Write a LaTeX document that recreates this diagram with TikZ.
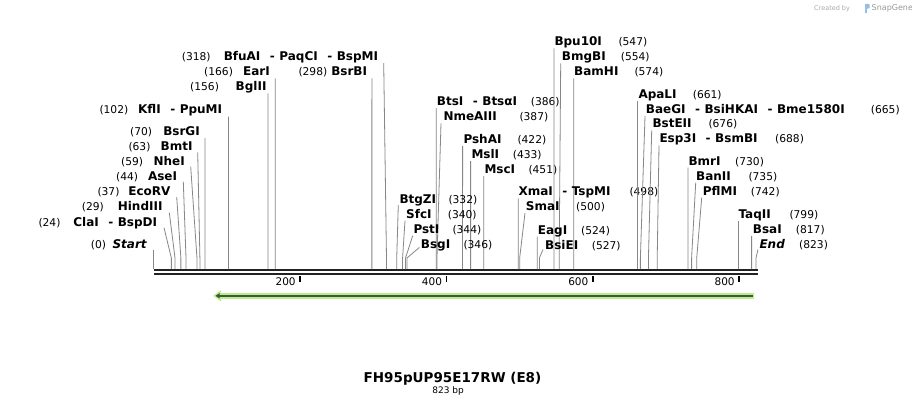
\documentclass[tikz,border=0pt]{standalone}
\usepackage{fontspec}
\setmainfont{DejaVu Sans}
\usetikzlibrary{arrows.meta}
\definecolor{sitegray}{RGB}{135,135,135}
\definecolor{rulerc}{RGB}{34,34,34}
\definecolor{featgreen}{RGB}{183,240,138}
\definecolor{featdark}{RGB}{72,82,62}
\definecolor{wmgray}{RGB}{170,170,170}
\definecolor{wmblue}{RGB}{150,190,230}
\newcommand\hy{\hspace{9.5pt}-\hspace{4.5pt}}
% left-side label: bp, name, number x, name right x, baseline, line top x, line top y
\newcommand\enzL[7]{%
  \node[num,anchor=base west] (n#1) at (#3,#5) {(#1)};
  \node[enz,anchor=base east] (e#1) at (#4,#5) {#2};
  \coordinate (s#1) at ({153.8+0.7317*#1},269);
  \coordinate (t#1) at (#6,#7);
  \draw[siteline] (t#1) -- ([yshift=11pt]s#1) -- (s#1);
}
% right-side label: bp, name, name left x, number x, baseline, line top x, line top y
\newcommand\enzR[7]{%
  \node[enz,anchor=base west] (e#1) at (#3,#5) {#2};
  \node[num,anchor=base west] (n#1) at (#4,#5) {(#1)};
  \coordinate (s#1) at ({153.8+0.7317*#1},269);
  \coordinate (t#1) at (#6,#7);
  \draw[siteline] (t#1) -- ([yshift=11pt]s#1) -- (s#1);
}
\begin{document}
\begin{tikzpicture}[x=1pt,y=-1pt,
  enz/.style={font=\fontsize{12}{14}\selectfont\bfseries, inner sep=0pt},
  num/.style={font=\fontsize{10.7}{12}\selectfont, inner sep=0pt},
  siteline/.style={draw=sitegray, line width=0.8pt},
  rulerline/.style={draw=rulerc, line width=2.1pt},
  tickmark/.style={draw=black, line width=1.5pt},
  ticklabel/.style={font=\fontsize{10.5}{12}\selectfont, inner sep=0pt, anchor=base east}]
\useasboundingbox (0,0) rectangle (912,408);
\fill[white] (0,0) rectangle (912,408);

% ruler
\coordinate (r0a) at (154,270.2);
\coordinate (r1a) at (757.5,270.2);
\coordinate (r0b) at (154,274.3);
\coordinate (r1b) at (757.5,274.3);
\draw[rulerline] (r0a) -- (r1a);
\draw[rulerline] (r0b) -- (r1b);

% ticks
\foreach \v in {200,400,600,800}{
  \coordinate (k\v) at ({153.8+0.7317*\v},276);
  \draw[tickmark] (k\v) -- ([yshift=-5.8pt]k\v);
  \node[ticklabel] (kl\v) at ([xshift=-4.3pt,yshift=-9.3pt]k\v) {\v};
}

% feature arrow
\coordinate (fa) at (754.3,295.8);
\coordinate (fb) at (220.5,295.8);
\coordinate (ftip) at (213.3,295.8);
\fill[featgreen] (754.3,293) rectangle (220.5,298.7);
\fill[featgreen] (220.8,290.3) -- (ftip) -- (220.8,301.3) -- cycle;
\draw[featdark, line width=1.6pt, -{Triangle[length=4pt,width=5pt]}] (752.5,295.8) -- (215.5,295.8);

% left labels
\enzL{0}{\textit{Start}}{90.7}{147.3}{248.3}{153.8}{250}
\enzL{24}{ClaI\hy BspDI}{38.3}{157.3}{226}{164}{227.7}
\enzL{29}{HindIII}{81.7}{162.7}{210.7}{169.3}{212.7}
\enzL{37}{EcoRV}{97.3}{170.7}{195.7}{176.7}{197}
\enzL{44}{AseI}{116}{177.3}{180}{183.3}{181.7}
\enzL{59}{NheI}{121}{185}{165}{190.7}{166.7}
\enzL{63}{BmtI}{128.3}{192.7}{150}{197.7}{152.3}
\enzL{70}{BsrGI}{130}{200}{135.7}{205}{138}
\enzL{102}{KflI\hy PpuMI}{99.3}{222.3}{113.3}{228.4}{116.7}
\enzL{156}{BglII}{190}{266.7}{90.7}{268}{93.3}
\enzL{166}{EarI}{204}{270}{75.7}{275.3}{78.3}
\enzL{298}{BsrBI}{298.3}{367.3}{75.7}{371.9}{78.3}
\enzL{318}{BfuAI\hy PaqCI\hy BspMI}{181.7}{378.3}{60.7}{383.7}{63}

% right labels
\enzR{386}{BtsI\hy BtsαI}{436.7}{530.7}{105.7}{436.2}{108}
\enzR{387}{NmeAIII}{443.3}{519.3}{120.7}{441}{123.3}
\enzR{422}{PshAI}{463.3}{517.3}{143.3}{462.6}{146}
\enzR{433}{MslI}{471.3}{512.7}{158.3}{470.6}{161}
\enzR{451}{MscI}{484.3}{528.3}{173.3}{483.8}{176}
\enzR{332}{BtgZI}{399.3}{448.3}{203.3}{398.3}{205}
\enzR{340}{SfcI}{406}{447.7}{218.3}{405}{220.7}
\enzR{344}{PstI}{413.3}{452.3}{233.3}{412.7}{235.7}
\enzR{346}{BsgI}{420.7}{463.3}{248.3}{419.3}{247.5}
\enzR{547}{Bpu10I}{554.3}{618.3}{45.7}{554}{48.3}
\enzR{554}{BmgBI}{561.7}{620.7}{60.7}{560.7}{63.3}
\enzR{574}{BamHI}{574}{634.3}{75.7}{573.8}{78.3}
\enzR{498}{XmaI\hy TspMI}{518.3}{629.3}{195.7}{518.2}{198.3}
\enzR{500}{SmaI}{525.7}{576}{210.7}{525}{213}
\enzR{524}{EagI}{537.7}{581}{234}{537.2}{236.7}
\enzR{527}{BsiEI}{545}{591.7}{249}{543}{249.5}
\enzR{661}{ApaLI}{638.3}{692.7}{98.3}{637.5}{101}
\enzR{665}{BaeGI\hy BsiHKAI\hy Bme1580I}{645.7}{870.7}{113.3}{645}{116}
\enzR{676}{BstEII}{652.3}{708.3}{127.7}{651.7}{130.3}
\enzR{688}{Esp3I\hy BsmBI}{659.3}{775}{142.7}{659}{145.3}
\enzR{730}{BmrI}{688.3}{735}{165}{687.9}{167.7}
\enzR{735}{BanII}{696}{748.3}{180}{695.7}{182.7}
\enzR{742}{PflMI}{702.7}{750.7}{195}{701.7}{197.7}
\enzR{799}{TaqII}{738.3}{789.3}{218.3}{738.4}{221}
\enzR{817}{BsaI}{752.7}{795.7}{233.3}{751.6}{236}
\enzR{823}{\textit{End}}{759.3}{799}{248.3}{758}{249.5}

% title
\node[font=\fontsize{13.5}{16}\selectfont\bfseries, inner sep=0pt, anchor=base] (title) at (452.5,382.7) {FH95pUP95E17RW (E8)};
\node[font=\fontsize{9}{11}\selectfont, inner sep=0pt, anchor=base] (len) at (448.2,393.8) {823 bp};

% watermark
\node[font=\fontsize{6.5}{8}\selectfont, text=wmgray, inner sep=0pt, anchor=base west] (wm1) at (814,10) {Created by};
\fill[wmblue] (864.5,3.5) rectangle (866.5,12.5);
\fill[wmblue] (866.5,3.5) -- (869.5,4.5) -- (869.5,8) -- (866.5,9) -- cycle;
\node[font=\fontsize{8}{10}\selectfont, text=wmgray!90!black, inner sep=0pt, anchor=base west] (wm2) at (871.5,10.5) {SnapGene};
\end{tikzpicture}
\end{document}
